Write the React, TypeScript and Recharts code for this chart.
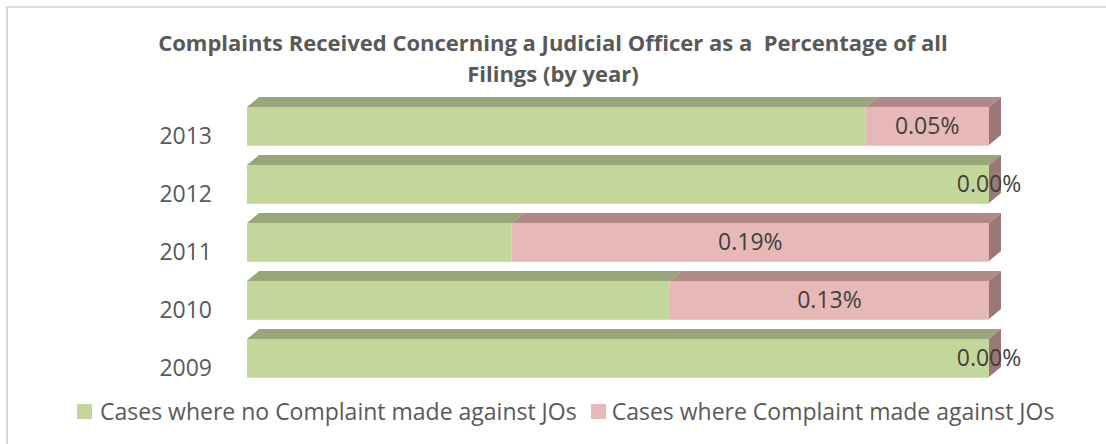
import React from 'react';
import { BarChart, Bar, XAxis, YAxis, LabelList } from 'recharts';

// values (percent of all filings), top row first
const years = ['2013', '2012', '2011', '2010', '2009'];
const noComplaint = [99.95, 100, 99.807, 99.871, 100];
const complaint = [0.05, 0, 0.193, 0.129, 0];
const axisMin = 99.7;
const axisMax = 100;

const seriesNames = ['Cases where no Complaint made against JOs', 'Cases where Complaint made against JOs'];

const data = years.map((year, i) => ({
  year,
  none: noComplaint[i],
  complaint: complaint[i],
}));

const FONT = '"Open Sans", sans-serif';
const DX = 12;
const DY = 10;

const GREEN = { front: '#C4D79B', top: '#98A67A' };
const PINK = { front: '#E6B9B8', top: '#B08A89', side: '#9B7776' };

// box with a top face and (for the last segment) a right face
const makeShape = (colors: { front: string; top: string; side?: string }) => (props: any) => {
  const { x, y, width, height } = props;
  const w = Math.max(0, width || 0);
  return (
    <g>
      <rect x={x} y={y} width={w} height={height} fill={colors.front} />
      <polygon
        points={`${x},${y} ${x + w},${y} ${x + w + DX},${y - DY} ${x + DX},${y - DY}`}
        fill={colors.top}
      />
      {colors.side && (
        <polygon
          points={`${x + w},${y} ${x + w + DX},${y - DY} ${x + w + DX},${y + height - DY} ${x + w},${y + height}`}
          fill={colors.side}
        />
      )}
      <line x1={x} y1={y + height + 0.5} x2={x + w} y2={y + height + 0.5} stroke="#d4d4d4" strokeWidth={1} />
    </g>
  );
};

const YearTick = (props: any) => {
  const { x, y, payload } = props;
  return (
    <text x={x} y={y + 9} textAnchor="end" dominantBaseline="central" fill="#595959" fontSize={23} fontFamily={FONT}>
      {payload.value}
    </text>
  );
};

export default function App() {
  return (
    <div style={{ position: 'absolute', left: 0, top: 0, width: 1106, height: 444, background: '#fff', fontFamily: FONT }}>
      <div
        style={{
          position: 'absolute',
          left: 6,
          top: 6,
          width: 1100,
          height: 438,
          borderTop: '2px solid #d9d9d9',
          borderLeft: '2px solid #d9d9d9',
          boxSizing: 'border-box',
        }}
      />
      <div
        style={{
          position: 'absolute',
          left: 0,
          top: 27,
          width: 1106,
          textAlign: 'center',
          fontSize: 22,
          lineHeight: '31px',
          fontWeight: 700,
          color: '#595959',
          whiteSpace: 'pre',
        }}
      >
        {'Complaints Received Concerning a Judicial Officer as a  Percentage of all\nFilings (by year)'}
      </div>
      <div style={{ position: 'absolute', left: 0, top: 0 }}>
        <BarChart
          width={1106}
          height={444}
          data={data}
          layout="vertical"
          margin={{ top: 97, right: 117, bottom: 57, left: 147 }}
        >
          <XAxis type="number" domain={[axisMin, axisMax]} hide />
          <YAxis
            yAxisId="a"
            type="category"
            dataKey="year"
            width={100}
            axisLine={false}
            tickLine={false}
            tickSize={0}
            tickMargin={35}
            tick={<YearTick />}
          />
          <YAxis yAxisId="b" type="category" dataKey="year" hide />
          <Bar
            yAxisId="a"
            dataKey={(d: any) => [axisMin, d.none]}
            name={seriesNames[0]}
            barSize={38}
            shape={makeShape(GREEN)}
            isAnimationActive={false}
          />
          <Bar
            yAxisId="b"
            dataKey={(d: any) => [d.none, d.none + d.complaint]}
            name={seriesNames[1]}
            barSize={38}
            shape={makeShape(PINK)}
            isAnimationActive={false}
          >
            <LabelList
              dataKey="complaint"
              position="center"
              formatter={(v: any) => `${Number(v).toFixed(2)}%`}
              fill="#404040"
              fontSize={23}
              fontFamily={FONT}
            />
          </Bar>
        </BarChart>
      </div>
      <div
        style={{
          position: 'absolute',
          left: 77,
          top: 396,
          height: 30,
          display: 'flex',
          alignItems: 'center',
          fontSize: 23,
          color: '#595959',
          whiteSpace: 'nowrap',
        }}
      >
        <span style={{ width: 15, height: 15, background: GREEN.front, marginRight: 8 }} />
        <span style={{ marginRight: 14 }}>{seriesNames[0]}</span>
        <span style={{ width: 15, height: 15, background: PINK.front, marginRight: 6 }} />
        <span>{seriesNames[1]}</span>
      </div>
    </div>
  );
}
